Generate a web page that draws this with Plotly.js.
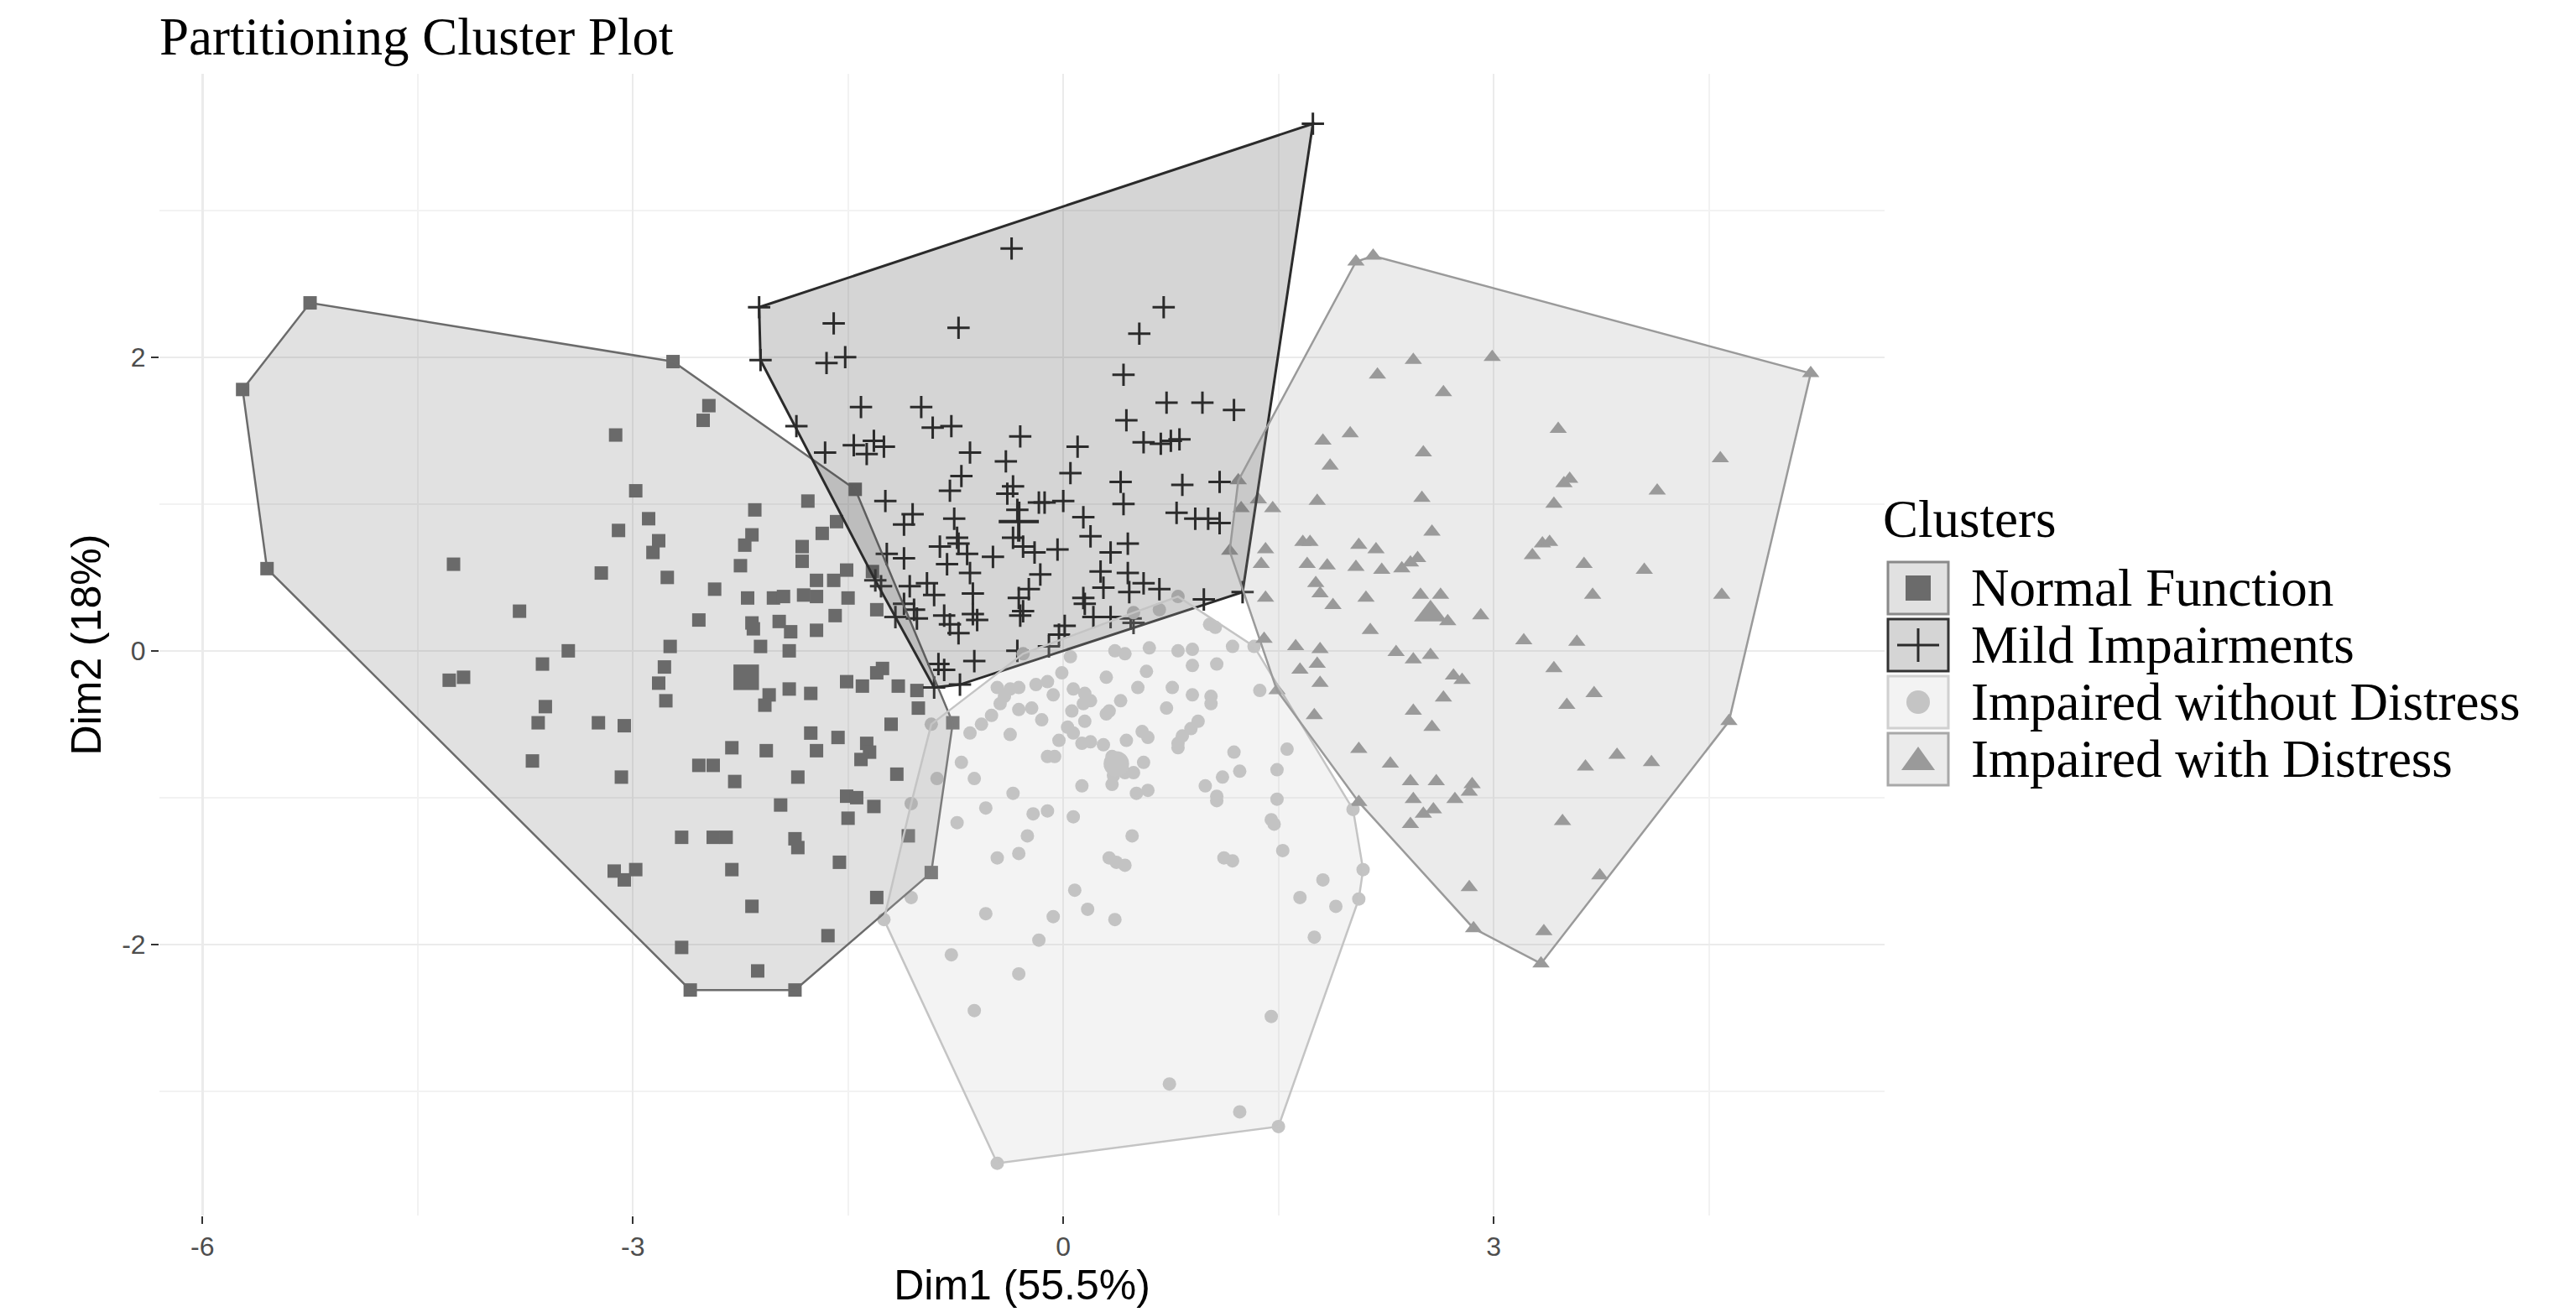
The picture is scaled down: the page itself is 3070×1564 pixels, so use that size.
<!DOCTYPE html>
<html>
<head>
<meta charset="utf-8">
<script src="https://cdn.plot.ly/plotly-3.0.1.min.js"></script>
<style>
html,body{margin:0;padding:0;background:#fff;}
#chart{width:3070px;height:1564px;}
</style>
</head>
<body>
<div id="chart"></div>
<script>
// ---------- data ----------
const clusterNames = ["Normal Function", "Mild Impairments", "Impaired without Distress", "Impaired with Distress"];

const normX = [-5.25,-5.72,-5.55,-2.72,-2.47,-2.51,-3.12,-2.98,-1.78,-2.15,-2.89,-3.10,-2.82,-2.86,-2.17,-2.22,-1.68,-1.82,-1.82,-2.25,
  -4.25,-3.22,-2.76,-2.43,-2.20,-2.02,-1.95,-1.81,-1.72,-1.72,-1.60,-3.79,-2.54,-2.17,-2.16,-1.98,-1.90,-1.72,-1.59,-2.11,
  -2.74,-3.45,-1.91,-4.28,-4.18,-3.63,-2.78,-2.82,-2.77,-1.91,-2.05,-2.08,-1.76,-3.61,-3.66,-3.24,-3.06,-1.76,-1.57,-2.31,
  -2.07,-1.72,-3.70,-2.54,-2.44,-3.08,-2.29,-1.85,-1.97,-2.66,-2.44,-2.35,-1.87,-1.85,-1.56,-3.13,-3.06,-2.98,-2.31,-2.17,
  -1.64,-2.66,-2.13,-2.60,-1.87,-1.45,-1.58,-1.51,-1.33,-1.50,-1.30,-1.26,-1.30,-1.51,-1.40,-1.15,-1.02,-1.01,-1.20,-0.77,
  -1.37,-1.35,-1.41,-1.16,-1.51,-1.44,-1.32,-1.50,-1.08,-0.92,-1.30];
const normY = [2.37,1.78,0.56,1.97,1.67,1.57,1.47,1.09,1.02,0.96,0.90,0.82,0.75,0.67,0.79,0.72,0.80,0.71,0.61,0.58,
  0.59,0.53,0.50,0.42,0.36,0.36,0.37,0.38,0.37,0.48,0.48,0.27,0.21,0.19,0.15,0.20,0.13,0.14,0.24,0.03,
  0.03,0.00,0.00,-0.20,-0.18,-0.09,-0.11,-0.22,-0.34,-0.26,-0.30,-0.37,-0.29,-0.38,-0.49,-0.49,-0.51,-0.56,-0.59,-0.66,
  -0.68,-0.68,-0.75,-0.78,-0.78,-0.86,-0.89,-0.86,-1.05,-1.27,-1.27,-1.27,-1.28,-1.34,-1.44,-1.50,-1.56,-1.49,-1.49,-1.74,
  -1.94,-2.02,-2.18,-2.31,-2.31,1.10,0.88,0.55,0.54,0.36,0.28,-0.12,-0.15,-0.21,-0.24,-0.24,-0.27,-0.39,-0.50,-0.49,
  -0.63,-0.69,-0.74,-0.84,-0.99,-1.00,-1.06,-1.14,-1.26,-1.51,-1.68];

const mildX = [1.74,-2.12,-2.11,-0.36,-1.60,-1.65,-1.52,-0.73,0.70,0.53,0.42,0.44,0.72,0.97,1.19,-1.41,-0.99,-1.86,-0.91,-0.78,
  -1.66,-0.30,-1.46,-1.37,-1.32,-1.25,-0.65,0.10,0.56,0.68,0.75,0.81,-0.40,-0.71,0.05,0.40,0.83,1.09,-0.79,-0.35,
  -0.39,-1.24,-0.17,-0.13,0.00,0.42,-1.05,-1.11,-0.76,-0.32,0.14,0.79,0.92,1.01,1.09,-0.74,-0.35,0.19,-0.86,-0.73,
  -0.67,-0.28,-0.20,-0.04,0.45,0.33,-1.23,-1.11,-0.49,-0.81,-0.65,-0.16,0.26,0.45,0.56,0.67,-1.31,-1.27,-1.07,-0.95,
  -0.90,-0.63,-0.24,0.28,0.46,0.14,0.15,-1.11,-1.04,-0.31,-0.28,-0.30,0.21,0.33,0.47,0.98,1.25,-1.17,-1.02,-0.83,
  -0.79,-0.73,-0.63,-0.60,0.01,-0.03,0.49,-0.10,-0.32,-0.87,-0.83,-0.62,-0.90,-0.72];
const mildY = [3.59,2.34,1.98,2.74,2.23,1.96,2.00,2.20,2.34,2.16,1.88,1.57,1.69,1.69,1.64,1.66,1.66,1.53,1.52,1.53,
  1.35,1.46,1.40,1.34,1.43,1.39,1.35,1.39,1.42,1.41,1.43,1.44,1.29,1.19,1.21,1.15,1.13,1.15,1.09,1.12,
  1.07,1.02,1.01,1.01,1.02,1.00,0.93,0.86,0.90,0.96,0.91,0.94,0.90,0.90,0.87,0.77,0.77,0.78,0.71,0.73,
  0.66,0.71,0.67,0.69,0.73,0.67,0.66,0.63,0.64,0.59,0.53,0.52,0.54,0.53,0.46,0.42,0.48,0.44,0.44,0.46,
  0.38,0.39,0.42,0.43,0.40,0.36,0.32,0.32,0.28,0.36,0.27,0.24,0.23,0.23,0.22,0.35,0.40,0.23,0.22,0.24,
  0.18,0.12,0.25,0.21,0.17,0.11,0.19,0.03,0.00,-0.09,-0.13,-0.07,-0.25,-0.23];

const impX = [1.06,1.18,1.33,0.60,0.36,0.43,0.80,0.90,0.05,0.90,1.07,0.58,-0.01,0.30,-0.46,-0.37,-0.31,-0.19,-0.11,-0.07,
  0.07,0.15,0.19,0.14,0.52,0.76,0.90,1.03,1.03,1.37,-0.41,-0.44,0.40,0.32,0.30,-0.31,-0.22,0.06,0.72,-0.50,
  -0.57,-0.15,0.15,-0.65,-0.37,0.03,0.07,-0.03,0.13,0.19,0.28,0.44,0.55,0.59,0.94,0.89,0.83,0.80,0.80,1.19,
  1.56,-0.71,-0.11,-0.06,0.34,0.39,0.35,0.43,0.49,0.56,1.49,-0.88,-0.62,0.13,0.34,0.51,0.59,1.11,1.23,0.99,
  1.07,1.07,-0.35,1.49,-1.06,-0.54,-0.21,-0.11,0.07,2.02,-0.74,1.45,1.47,-0.25,0.48,1.53,-0.46,-0.31,0.32,0.37,
  0.43,1.12,1.18,2.09,-0.92,-1.06,0.08,1.81,1.65,2.06,0.17,1.90,-0.54,-0.07,0.36,0.80,0.67,0.49,1.02,-0.28,
  1.75,-1.25,-0.17,-0.78,-0.31,-0.62,1.45,0.74,1.23,1.50,-0.46];
const impY = [0.16,0.03,0.03,0.02,0.00,-0.02,0.00,0.01,-0.04,-0.10,-0.09,-0.14,-0.15,-0.18,-0.25,-0.26,-0.25,-0.23,-0.21,-0.30,
  -0.26,-0.29,-0.34,-0.36,-0.25,-0.25,-0.30,-0.31,-0.36,-0.27,-0.31,-0.36,-0.34,-0.41,-0.43,-0.40,-0.39,-0.41,-0.39,-0.44,
  -0.50,-0.47,-0.48,-0.56,-0.57,-0.52,-0.56,-0.61,-0.63,-0.62,-0.64,-0.61,-0.55,-0.59,-0.48,-0.53,-0.58,-0.63,-0.66,-0.69,
  -0.67,-0.76,-0.72,-0.72,-0.72,-0.79,-0.85,-0.83,-0.83,-0.76,-0.81,-0.87,-0.87,-0.92,-0.91,-0.97,-0.95,-0.86,-0.82,-0.92,
  -0.99,-1.02,-0.97,-1.01,-1.04,-1.07,-1.11,-1.09,-1.13,-1.08,-1.17,-1.15,-1.18,-1.26,-1.26,-1.36,-1.41,-1.38,-1.41,-1.44,
  -1.46,-1.41,-1.43,-1.49,-0.50,-1.68,-1.63,-1.56,-1.68,-1.69,-1.76,-1.74,-1.79,-1.81,-1.83,0.37,0.28,0.26,0.18,-0.02,
  -1.95,-1.83,-1.97,-2.07,-2.20,-2.45,-2.49,-2.95,-3.14,-3.24,-3.49];

const distX = [2.04,2.16,5.21,2.44,2.99,2.19,2.65,3.45,1.81,2.00,2.51,1.86,4.58,3.49,3.53,1.22,4.14,1.77,2.50,3.42,
  1.24,1.36,1.46,2.57,1.67,1.72,2.06,2.18,3.34,3.39,3.27,1.16,1.41,1.38,1.70,1.84,2.04,2.22,2.36,2.42,
  2.47,3.63,4.05,1.76,1.79,1.41,1.88,2.11,2.49,2.63,2.68,2.91,3.69,4.59,2.14,3.21,3.58,1.40,1.62,1.79,
  2.32,2.44,2.56,1.77,1.65,3.42,2.72,2.78,1.79,1.49,3.70,2.65,3.51,2.44,1.75,2.57,4.64,2.06,3.86,4.10,
  3.64,2.28,2.42,2.60,2.85,2.83,2.44,2.73,2.06,2.58,2.51,2.42,3.48,3.74,2.83,2.86,3.35,3.33];
const distY = [2.65,2.69,1.89,1.98,2.00,1.88,1.76,1.51,1.43,1.48,1.35,1.26,1.31,1.14,1.17,1.16,1.09,1.02,1.04,1.00,
  0.97,1.03,0.97,0.81,0.74,0.74,0.72,0.69,0.73,0.74,0.65,0.68,0.69,0.59,0.59,0.58,0.57,0.55,0.56,0.60,
  0.63,0.59,0.55,0.46,0.39,0.36,0.31,0.36,0.38,0.38,0.20,0.24,0.38,0.38,0.14,0.07,0.06,0.08,0.03,0.01,
  -0.01,-0.06,-0.03,-0.09,-0.13,-0.12,-0.17,-0.20,-0.22,-0.27,-0.29,-0.32,-0.37,-0.41,-0.44,-0.52,-0.48,-0.67,-0.71,-0.76,
  -0.79,-0.77,-0.89,-0.89,-0.91,-0.96,-1.01,-1.01,-1.03,-1.08,-1.11,-1.18,-1.16,-1.53,-1.61,-1.89,-1.91,-2.13];

// cluster centres (larger symbols)
const centerX = [-2.21, -0.31, 0.37, 2.56];
const centerY = [-0.18, 0.88, -0.77, 0.25];

const xTickVals = [-6, -3, 0, 3];
const xTickText = ["-6", "-3", "0", "3"];
const yTickVals = [-2, 0, 2];
const yTickText = ["-2", "0", "2"];

// ---------- styling ----------
const colors = ["#6b6b6b", "#2b2b2b", "#c4c4c4", "#9a9a9a"];
const fills = ["rgba(107,107,107,0.2)", "rgba(43,43,43,0.2)", "rgba(196,196,196,0.2)", "rgba(154,154,154,0.2)"];
const symbols = ["square", "cross-thin", "circle", "triangle-up"];
const sizes = [16, 19, 16, 18];

const xs = [normX, mildX, impX, distX];
const ys = [normY, mildY, impY, distY];

function convexHull(px, py) {
  const pts = px.map((x, i) => [x, py[i]]).sort((a, b) => a[0] - b[0] || a[1] - b[1]);
  const cross = (o, a, b) => (a[0] - o[0]) * (b[1] - o[1]) - (a[1] - o[1]) * (b[0] - o[0]);
  const lower = [];
  for (const p of pts) {
    while (lower.length >= 2 && cross(lower[lower.length - 2], lower[lower.length - 1], p) <= 0) lower.pop();
    lower.push(p);
  }
  const upper = [];
  for (let i = pts.length - 1; i >= 0; i--) {
    const p = pts[i];
    while (upper.length >= 2 && cross(upper[upper.length - 2], upper[upper.length - 1], p) <= 0) upper.pop();
    upper.push(p);
  }
  upper.pop(); lower.pop();
  const h = lower.concat(upper);
  h.push(h[0]);
  return { x: h.map(p => p[0]), y: h.map(p => p[1]) };
}

const traces = [];
// points
for (let k = 0; k < 4; k++) {
  const thin = symbols[k] === "cross-thin";
  traces.push({
    type: "scatter", mode: "markers", name: clusterNames[k], x: xs[k], y: ys[k],
    marker: thin
      ? { symbol: symbols[k], size: sizes[k], color: colors[k], line: { color: colors[k], width: 3 } }
      : { symbol: symbols[k], size: sizes[k], color: colors[k], line: { width: 0 } },
    hoverinfo: "x+y+name"
  });
}
// hulls
for (let k = 0; k < 4; k++) {
  const h = convexHull(xs[k], ys[k]);
  traces.push({
    type: "scatter", mode: "lines", x: h.x, y: h.y, fill: "toself",
    fillcolor: fills[k], line: { color: colors[k], width: k === 1 ? 3 : 2.5 },
    hoverinfo: "skip", name: clusterNames[k]
  });
}
// centres
for (let k = 0; k < 4; k++) {
  const thin = symbols[k] === "cross-thin";
  traces.push({
    type: "scatter", mode: "markers", x: [centerX[k]], y: [centerY[k]], name: clusterNames[k],
    marker: thin
      ? { symbol: symbols[k], size: sizes[k] * 1.8, color: colors[k], line: { color: colors[k], width: 4 } }
      : { symbol: symbols[k], size: sizes[k] * 1.9, color: colors[k], line: { width: 0 } },
    hoverinfo: "skip"
  });
}

// ---------- layout helpers (pixel -> paper) ----------
const W = 3070, H = 1564;
const M = { l: 190, r: 824, t: 88, b: 115 };
const plotW = W - M.l - M.r, plotH = H - M.t - M.b;
const pxX = px => (px - M.l) / plotW;
const pxY = py => (H - M.b - py) / plotH;

const serif = "Liberation Serif, 'Times New Roman', serif";
const legendRowsY = [701, 769, 837, 905];
const keyCX = 2286;
const shapes = [];
const annotations = [];

annotations.push({
  xref: "paper", yref: "paper", x: pxX(2242), y: pxY(619), xanchor: "left", yanchor: "middle",
  text: "Clusters", showarrow: false,
  font: { family: serif, size: 63, color: "#000" }
});

const keyBorder = ["#8a8a8a", "#333333", "#d0d0d0", "#a8a8a8"];
for (let k = 0; k < 4; k++) {
  const ax = pxX(keyCX), ay = pxY(legendRowsY[k]);
  const base = { xref: "paper", yref: "paper", xsizemode: "pixel", ysizemode: "pixel", xanchor: ax, yanchor: ay };
  shapes.push(Object.assign({}, base, {
    type: "rect", x0: -36, x1: 36, y0: -31, y1: 31,
    fillcolor: fills[k], line: { color: keyBorder[k], width: 3 }, layer: "above"
  }));
  if (k === 0) {
    shapes.push(Object.assign({}, base, { type: "rect", x0: -15, x1: 15, y0: -15, y1: 15, fillcolor: colors[0], line: { width: 0 }, layer: "above" }));
  } else if (k === 1) {
    shapes.push(Object.assign({}, base, { type: "line", x0: -25, x1: 25, y0: 0, y1: 0, line: { color: colors[1], width: 3 }, layer: "above" }));
    shapes.push(Object.assign({}, base, { type: "line", x0: 0, x1: 0, y0: -20, y1: 20, line: { color: colors[1], width: 3 }, layer: "above" }));
  } else if (k === 2) {
    shapes.push(Object.assign({}, base, { type: "circle", x0: -14, x1: 14, y0: -14, y1: 14, fillcolor: colors[2], line: { width: 0 }, layer: "above" }));
  } else {
    shapes.push(Object.assign({}, base, { type: "path", path: "M-20,-13 L20,-13 L0,15 Z", fillcolor: colors[3], line: { width: 0 }, layer: "above" }));
  }
  annotations.push({
    xref: "paper", yref: "paper", x: pxX(2347), y: ay, xanchor: "left", yanchor: "middle",
    text: clusterNames[k], showarrow: false,
    font: { family: serif, size: 63, color: "#000" }
  });
}

const tickFont = { family: "Liberation Sans, Arial, sans-serif", size: 32, color: "#4d4d4d" };
const axTitleFont = { family: "Liberation Sans, Arial, sans-serif", size: 50, color: "#000" };

const layout = {
  width: W, height: H,
  margin: { l: M.l, r: M.r, t: M.t, b: M.b, pad: 0 },
  paper_bgcolor: "#ffffff", plot_bgcolor: "#ffffff",
  showlegend: false,
  title: {
    text: "Partitioning Cluster Plot",
    font: { family: serif, size: 63, color: "#000" },
    x: 0, xref: "paper", xanchor: "left",
    y: 1 - 43 / H, yref: "container", yanchor: "middle"
  },
  xaxis: {
    range: [-6.30, 5.725], tickmode: "array", tickvals: xTickVals, ticktext: xTickText,
    ticks: "outside", ticklen: 9, tickwidth: 2, tickcolor: "#333",
    showgrid: true, gridcolor: "#ebebeb", gridwidth: 2.5, zeroline: false, showline: false,
    tickfont: tickFont,
    title: { text: "Dim1 (55.5%)", font: axTitleFont, standoff: 6 },
    minor: { tickmode: "linear", tick0: 0, dtick: 1.5, showgrid: true, gridcolor: "#f2f2f2", gridwidth: 2, ticks: "" },
    automargin: false, fixedrange: true
  },
  yaxis: {
    range: [-3.846, 3.93], tickmode: "array", tickvals: yTickVals, ticktext: yTickText,
    ticks: "outside", ticklen: 9, tickwidth: 2, tickcolor: "#333",
    showgrid: true, gridcolor: "#ebebeb", gridwidth: 2.5, zeroline: false, showline: false,
    tickfont: tickFont,
    title: { text: "Dim2 (18%)", font: axTitleFont, standoff: 8 },
    minor: { tickmode: "linear", tick0: 0, dtick: 1, showgrid: true, gridcolor: "#f2f2f2", gridwidth: 2, ticks: "" },
    automargin: false, fixedrange: true
  },
  shapes: shapes,
  annotations: annotations
};

Plotly.newPlot("chart", traces, layout, { staticPlot: true, displayModeBar: false });
</script>
</body>
</html>
